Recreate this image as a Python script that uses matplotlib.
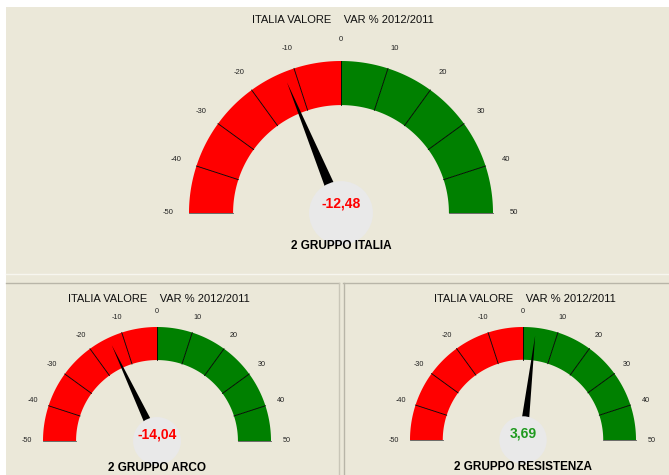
import numpy as np
import matplotlib
matplotlib.use("Agg")
import matplotlib.pyplot as plt
from matplotlib.patches import Rectangle, Circle, Polygon

# gauge data
titles = ["ITALIA VALORE    VAR % 2012/2011"] * 3
names = ["2 GRUPPO ITALIA", "2 GRUPPO ARCO", "2 GRUPPO RESISTENZA"]
values = [-12.48, -14.04, 3.69]
ticks = [-50, -40, -30, -20, -10, 0, 10, 20, 30, 40, 50]
vmin, vmax = -50, 50

# layout in pixels: centre x, centre y, outer radius
gauges = [(341, 213, 152), (157, 441, 114), (523, 440, 113)]

W, H = 669, 475
bg = "#ebe8d9"
red = "#ff0000"
green = "#008000"

plt.rcParams['font.family'] = ['Liberation Sans', 'DejaVu Sans']

fig = plt.figure(figsize=(W / 100, H / 100), dpi=100, facecolor="white")
ax = fig.add_axes([0, 0, 1, 1])
ax.set_xlim(0, W)
ax.set_ylim(H, 0)
ax.set_aspect("equal")
ax.axis("off")

# panels
ax.add_patch(Rectangle((6, 7), W - 6, 266, color=bg, lw=0))
ax.add_patch(Rectangle((6, 273), W - 6, H - 273, color=bg, lw=0))
ax.plot([6, W], [273.5, 273.5], color="#f7f6ef", lw=1)
ax.plot([6, 339], [282.5, 282.5], color="#b8b5a8", lw=1)
ax.plot([339, 339], [282.5, H], color="#c9c6b8", lw=1)
ax.plot([343, W], [282.5, 282.5], color="#b8b5a8", lw=1)
ax.plot([343.5, 343.5], [282.5, H], color="#b8b5a8", lw=1)


def ang(v):
    # screen angle in radians: -50 -> left, 50 -> right
    return np.radians(180 - (v - vmin) / (vmax - vmin) * 180)


def pt(cx, cy, r, a):
    return cx + r * np.cos(a), cy - r * np.sin(a)


for (cx, cy, R), title, name, val in zip(gauges, titles, names, values):
    rin = R * 0.71
    # coloured segments
    for lo, hi in zip(ticks[:-1], ticks[1:]):
        a = np.linspace(ang(lo), ang(hi), 40)
        xo, yo = pt(cx, cy, R, a)
        xi, yi = pt(cx, cy, rin, a[::-1])
        col = red if hi <= 0 else green
        ax.fill(np.r_[xo, xi], np.r_[yo, yi], color=col, lw=0, zorder=2)
    # separators and labels
    fs = 5.5 if R > 130 else 5.2
    for t in ticks:
        a = ang(t)
        x1, y1 = pt(cx, cy, rin, a)
        x2, y2 = pt(cx, cy, R, a)
        c = "#555555" if abs(t) == 50 else "black"
        ax.plot([x1, x2], [y1, y2], color=c, lw=0.6, zorder=3)
        lx, ly = pt(cx, cy, R * 1.14, a)
        ax.text(lx, ly, str(t), ha="center", va="center", fontsize=fs,
                color="#222222", zorder=4)
    # needle
    a = ang(val)
    perp = a + np.pi / 2
    bx, by = pt(cx, cy, R * 0.2, a)
    hw = R * 0.032
    tx, ty = pt(cx, cy, R * 0.93, a)
    needle = [(bx + hw * np.cos(perp), by - hw * np.sin(perp)),
              (bx - hw * np.cos(perp), by + hw * np.sin(perp)),
              (tx, ty)]
    ax.add_patch(Polygon(needle, closed=True, color="black", lw=0, zorder=5))
    ax.add_patch(Circle((cx, cy), R * 0.21, color="#e9e9e9", lw=0, zorder=6))
    # texts
    vcol = red if val < 0 else "#1f9a1f"
    ax.text(cx, cy - R * 0.06, f"{val:.2f}".replace(".", ","), ha="center",
            va="center", fontsize=10, fontweight="bold", color=vcol, zorder=7)
    ax.text(cx, cy + R * (0.22 if R > 130 else 0.24), name, ha="center",
            va="center", fontsize=8.5, fontweight="bold", color="black", zorder=7)
    ax.text(cx + 2, cy - R * (1.27 if R > 130 else 1.25), title, ha="center",
            va="center", fontsize=8, color="#111111", zorder=7)

fig.savefig("out.png", dpi=100, facecolor="white")
